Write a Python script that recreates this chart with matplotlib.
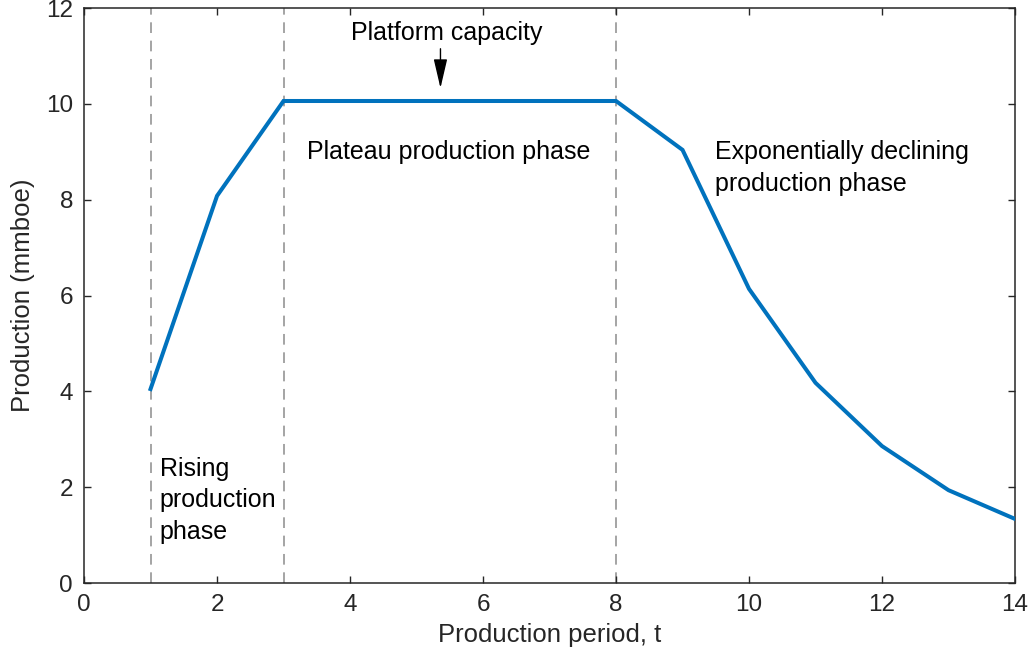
import matplotlib
matplotlib.use('Agg')
import matplotlib.pyplot as plt

# Production profile of a field over its life
periods = [1, 2, 3, 4, 5, 6, 7, 8, 9, 10, 11, 12, 13, 14]
production = [4.05, 8.08, 10.06, 10.06, 10.06, 10.06, 10.06, 10.06, 9.04, 6.14, 4.18, 2.86, 1.94, 1.34]

# Phase boundaries
phase_bounds = [1, 3, 8]

plt.rcParams['font.family'] = ['Liberation Sans', 'DejaVu Sans']
text_col = '#262626'

fig = plt.figure(figsize=(10.31, 6.68), dpi=100)
ax = fig.add_axes([0.0815, 0.127, 0.9030, 0.861])

for xb in phase_bounds:
    ax.axvline(xb, color='#8c8c8c', lw=1.1, ls=(0, (7, 5)), zorder=1)

ax.plot(periods, production, color='#0072BD', lw=2.9, zorder=3, solid_joinstyle='miter')

ax.set_xlim(0, 14)
ax.set_ylim(0, 12)
ax.set_xticks(range(0, 15, 2))
ax.set_yticks(range(0, 13, 2))
ax.tick_params(direction='in', length=5, width=1, top=True, right=True,
               labelsize=17.5, colors=text_col, pad=8)
for sp in ax.spines.values():
    sp.set_color(text_col)
    sp.set_linewidth(1.1)

ax.set_xlabel('Production period, t', fontsize=18.5, color=text_col, labelpad=5)
ax.set_ylabel('Production (mmboe)', fontsize=18.5, color=text_col, labelpad=8)

# Phase labels
ax.text(1.14, 1.73, 'Rising\nproduction\nphase', fontsize=18, va='center', ha='left',
        linespacing=1.4, color='black')
ax.text(3.36, 9.0, 'Plateau production phase', fontsize=18, va='center', ha='left',
        color='black')
ax.text(9.49, 8.66, 'Exponentially declining\nproduction phase', fontsize=18, va='center',
        ha='left', linespacing=1.4, color='black')

# Platform capacity arrow
ax.annotate('', xy=(5.36, 10.33), xytext=(5.36, 11.15),
            arrowprops=dict(arrowstyle='-|>,head_length=1.8,head_width=0.42',
                            color='black', lw=1.0, shrinkA=0, shrinkB=0))
ax.text(5.45, 11.48, 'Platform capacity', fontsize=18, ha='center', va='center',
        color='black')

fig.savefig('out.png', dpi=100)
